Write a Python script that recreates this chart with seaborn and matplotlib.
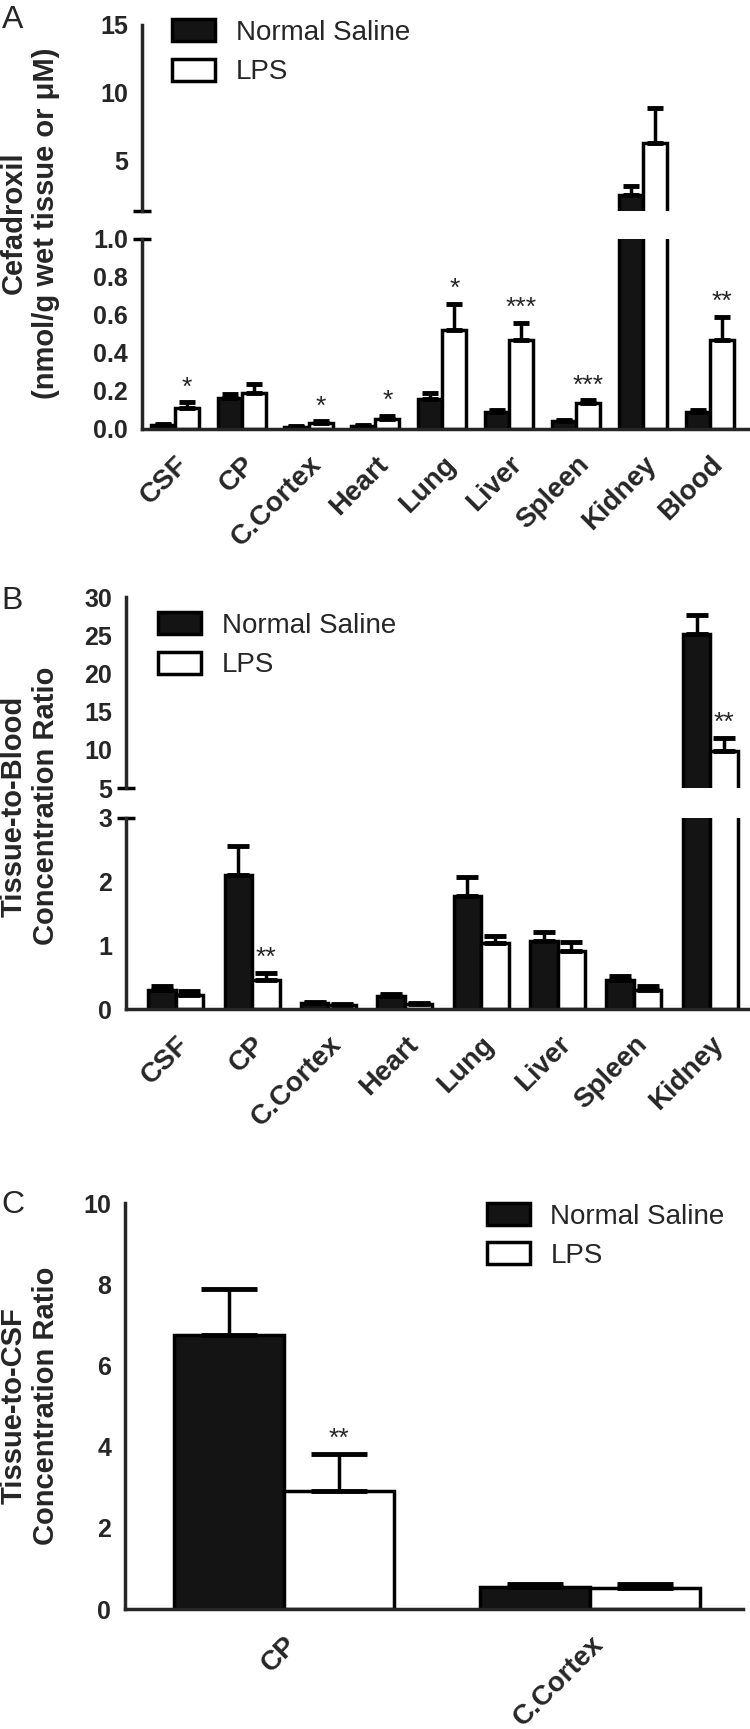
# Cefadroxil distribution after saline or LPS treatment: three stacked bar panels (A, B, C).

import matplotlib

matplotlib.use("Agg")

import matplotlib.pyplot as plt
import pandas as pd
import seaborn as sns

# Panel A: tissue / blood concentration (nmol/g or uM)
TISSUES_A = ["CSF", "CP", "C.Cortex", "Heart", "Lung", "Liver", "Spleen", "Kidney", "Blood"]
SALINE_A = [0.02, 0.165, 0.01, 0.015, 0.16, 0.09, 0.04, 2.5, 0.09]
SALINE_A_ERR = [0.008, 0.02, 0.004, 0.006, 0.03, 0.012, 0.007, 0.6, 0.012]
LPS_A = [0.108, 0.19, 0.03, 0.055, 0.52, 0.47, 0.135, 6.3, 0.47]
LPS_A_ERR = [0.032, 0.045, 0.01, 0.015, 0.14, 0.09, 0.016, 2.6, 0.12]
STARS_A = ["*", "", "*", "*", "*", "***", "***", "", "**"]

# Panel B: tissue-to-blood ratio
TISSUES_B = ["CSF", "CP", "C.Cortex", "Heart", "Lung", "Liver", "Spleen", "Kidney"]
SALINE_B = [0.3, 2.1, 0.1, 0.2, 1.78, 1.07, 0.46, 25.2]
SALINE_B_ERR = [0.06, 0.46, 0.012, 0.04, 0.3, 0.14, 0.06, 2.4]
LPS_B = [0.22, 0.46, 0.07, 0.08, 1.03, 0.91, 0.3, 9.9]
LPS_B_ERR = [0.07, 0.11, 0.01, 0.02, 0.12, 0.14, 0.06, 1.7]
STARS_B = ["", "**", "", "", "", "", "", "**"]

# Panel C: tissue-to-CSF ratio
TISSUES_C = ["CP", "C.Cortex"]
SALINE_C = [6.76, 0.55]
SALINE_C_ERR = [1.12, 0.06]
LPS_C = [2.91, 0.52]
LPS_C_ERR = [0.91, 0.1]
STARS_C = ["**", ""]

GROUPS = ["Normal Saline", "LPS"]
PALETTE = {"Normal Saline": "#141414", "LPS": "white"}
LW = 2.5


def make_frame(tissues, saline, lps, saline_err, lps_err):
    return pd.DataFrame(
        {
            "tissue": tissues * 2,
            "group": [GROUPS[0]] * len(tissues) + [GROUPS[1]] * len(tissues),
            "value": saline + lps,
            "err": saline_err + lps_err,
        }
    )


def draw_bars(ax, df, capsize):
    sns.barplot(
        data=df, x="tissue", y="value", hue="group", hue_order=GROUPS,
        palette=PALETTE, saturation=1, edgecolor="black", linewidth=LW,
        width=0.72, errorbar=None, legend=False, ax=ax,
    )
    # one-sided (upward) SEM bars on top of each bar
    for container, group in zip(ax.containers, GROUPS):
        errs = df.loc[df["group"] == group, "err"].to_numpy()
        for bar, err in zip(container, errs):
            x = bar.get_x() + bar.get_width() / 2
            ax.errorbar(x, bar.get_height(), yerr=[[0], [err]], fmt="none",
                        ecolor="black", elinewidth=LW, capsize=capsize, capthick=3.5)
    ax.set_xlabel("")
    ax.set_ylabel("")


def style_axis(ax, yticks, fmt, ylim, xlim, bottom=True):
    ax.set_ylim(*ylim)
    ax.set_xlim(*xlim)
    ax.set_yticks(yticks)
    ax.set_yticklabels([fmt.format(t) for t in yticks], fontweight="bold", fontsize=18)
    ax.spines[["top", "right"]].set_visible(False)
    ax.spines["left"].set_linewidth(LW)
    ax.spines["bottom"].set_linewidth(LW)
    ax.tick_params(axis="y", direction="out", length=7, width=LW, pad=3)
    if bottom:
        ax.tick_params(axis="x", direction="out", length=9, width=LW, pad=7)
        for lab in ax.get_xticklabels():
            lab.set_rotation(45)
            lab.set_ha("right")
            lab.set_rotation_mode("anchor")
            lab.set_fontweight("bold")
            lab.set_fontsize(20)
    else:
        ax.spines["bottom"].set_visible(False)
        ax.tick_params(axis="x", bottom=False, labelbottom=False)
    ax.set_facecolor("none")


def break_mark(ax, y):
    # short cross tick where the y axis is interrupted
    ax.plot([0], [y], marker="_", markersize=13, markeredgewidth=LW,
            color="black", transform=ax.transAxes, clip_on=False)


def add_stars(axes, df, stars, limits):
    lps = df[df["group"] == GROUPS[1]]
    for ax, (lo, hi) in zip(axes, limits):
        for bar, (_, row), star in zip(ax.containers[1], lps.iterrows(), stars):
            top = row["value"] + row["err"]
            if star and lo <= top < hi:
                ax.annotate(star, (bar.get_x() + bar.get_width() / 2, top),
                            xytext=(0, 2), textcoords="offset points",
                            ha="center", va="bottom", fontsize=19)


def add_legend(ax, anchor):
    handles = [c[0] for c in ax.containers]
    ax.legend(handles, GROUPS, loc="upper left", bbox_to_anchor=anchor,
              frameon=False, borderpad=0, borderaxespad=0, handlelength=1.55,
              handleheight=0.85, handletextpad=0.75, labelspacing=0.45,
              prop={"size": 20})


sns.set_style("white")
plt.rcParams["font.family"] = ["Liberation Sans", "DejaVu Sans"]

fig = plt.figure(figsize=(7.5, 17.29), dpi=100)

# ---------------------------------------------------------------- panel A
df_a = make_frame(TISSUES_A, SALINE_A, LPS_A, SALINE_A_ERR, LPS_A_ERR)
xlim_a = (-0.49, 8.6)
ax_a_top = fig.add_axes([0.1893, 0.8780, 0.8107, 0.1076])
ax_a_bot = fig.add_axes([0.1893, 0.7519, 0.8107, 0.1099])
draw_bars(ax_a_top, df_a, capsize=6)
draw_bars(ax_a_bot, df_a, capsize=6)
style_axis(ax_a_top, [5, 10, 15], "{:g}", (1.3, 15), xlim_a, bottom=False)
style_axis(ax_a_bot, [0, 0.2, 0.4, 0.6, 0.8, 1.0], "{:.1f}", (0, 1.0), xlim_a)
break_mark(ax_a_top, 0)
break_mark(ax_a_bot, 1)
add_stars([ax_a_bot, ax_a_top], df_a, STARS_A, [(0, 1.0), (1.3, 15)])
add_legend(ax_a_top, (0.049, 1.03))

# ---------------------------------------------------------------- panel B
df_b = make_frame(TISSUES_B, SALINE_B, LPS_B, SALINE_B_ERR, LPS_B_ERR)
xlim_b = (-0.65, 7.52)
ax_b_top = fig.add_axes([0.168, 0.5442, 0.832, 0.1105])
ax_b_bot = fig.add_axes([0.168, 0.4164, 0.832, 0.1105])
draw_bars(ax_b_top, df_b, capsize=8)
draw_bars(ax_b_bot, df_b, capsize=8)
style_axis(ax_b_top, [5, 10, 15, 20, 25, 30], "{:g}", (5, 30), xlim_b, bottom=False)
style_axis(ax_b_bot, [0, 1, 2, 3], "{:g}", (0, 3), xlim_b)
break_mark(ax_b_top, 0)
break_mark(ax_b_bot, 1)
add_stars([ax_b_bot, ax_b_top], df_b, STARS_B, [(0, 3), (5, 30)])
add_legend(ax_b_top, (0.051, 0.92))

# ---------------------------------------------------------------- panel C
df_c = make_frame(TISSUES_C, SALINE_C, LPS_C, SALINE_C_ERR, LPS_C_ERR)
ax_c = fig.add_axes([0.1667, 0.0694, 0.824, 0.2348])
draw_bars(ax_c, df_c, capsize=20)
style_axis(ax_c, [0, 2, 4, 6, 8, 10], "{:g}", (0, 10), (-0.52, 1.5))
add_stars([ax_c], df_c, STARS_C, [(0, 10)])
add_legend(ax_c, (0.585, 1.0))

# ---------------------------------------------------------------- labels
for letter, y in [("A", 0.997), ("B", 0.661), ("C", 0.312)]:
    fig.text(0.002, y, letter, ha="left", va="top", fontsize=23)

ylabels = [
    ("Cefadroxil\n(nmol/g wet tissue or \u03bcM)", 0.871),
    ("Tissue-to-Blood\nConcentration Ratio", 0.5338),
    ("Tissue-to-CSF\nConcentration Ratio", 0.187),
]
for text, y in ylabels:
    fig.text(0.0, y, text, rotation=90, ha="left", va="center",
             multialignment="center", fontsize=21, fontweight="bold",
             linespacing=1.2)

fig.savefig("out.png", dpi=100)
